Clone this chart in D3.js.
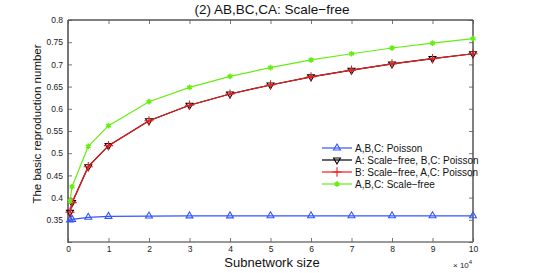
<!DOCTYPE html>
<html><head><meta charset="utf-8">
<script src="https://cdn.jsdelivr.net/npm/d3@7"></script>
<style>body{margin:0;background:#fff}svg{display:block;font-family:"Liberation Sans",Arial,sans-serif}</style>
</head><body><svg id="c" width="545" height="273"></svg>
<script>
const sizes = [500, 1000, 5000, 10000, 20000, 30000, 40000, 50000, 60000, 70000, 80000, 90000, 100000];
const poisson = [0.3495, 0.351, 0.3556, 0.3578, 0.3585, 0.3588, 0.3589, 0.359, 0.359, 0.359, 0.359, 0.359, 0.359];
const aScaleFree = [0.367, 0.3886, 0.4696, 0.517, 0.573, 0.608, 0.6333, 0.6536, 0.672, 0.687, 0.701, 0.713, 0.724];
const bScaleFree = [0.367, 0.3886, 0.4696, 0.517, 0.573, 0.608, 0.6333, 0.6536, 0.672, 0.687, 0.701, 0.713, 0.724];
const allScaleFree = [0.392, 0.4245, 0.5155, 0.562, 0.616, 0.6484, 0.673, 0.6926, 0.710, 0.724, 0.737, 0.748, 0.758];
const xTicks = [0, 10000, 20000, 30000, 40000, 50000, 60000, 70000, 80000, 90000, 100000];
const yTicks = [0.3, 0.35, 0.4, 0.45, 0.5, 0.55, 0.6, 0.65, 0.7, 0.75, 0.8];
const seriesNames = ["A,B,C: Poisson", "A: Scale\u2212free, B,C: Poisson", "B: Scale\u2212free, A,C: Poisson", "A,B,C: Scale\u2212free"];

const svg = d3.select("#c");
const L = 68, R = 473, T = 20, B = 242;
const x = d3.scaleLinear().domain([0, 100000]).range([L, R]);
const y = d3.scaleLinear().domain([0.3, 0.8]).range([B, T]);

const g = svg.append("g");
g.append("line").attr("x1", L).attr("x2", R).attr("y1", T).attr("y2", T).attr("stroke", "#000").attr("stroke-width", 1);
g.append("line").attr("x1", R).attr("x2", R).attr("y1", T).attr("y2", B).attr("stroke", "#000").attr("stroke-width", 1);

const xAxis = d3.axisBottom(x).tickValues(xTicks).tickSize(-4).tickPadding(4).tickFormat(d => d / 10000);
const xa = svg.append("g").attr("transform", `translate(0,${B})`).call(xAxis);
const xTop = svg.append("g").attr("transform", `translate(0,${T})`).call(d3.axisTop(x).tickValues(xTicks).tickSize(-4).tickFormat(""));
const yAxis = d3.axisLeft(y).tickValues(yTicks).tickSize(-4).tickPadding(5).tickFormat(d => d === 0.3 ? "" : String(+d.toFixed(2)));
const ya = svg.append("g").attr("transform", `translate(${L},0)`).call(yAxis);
const yRight = svg.append("g").attr("transform", `translate(${R},0)`).call(d3.axisRight(y).tickValues(yTicks).tickSize(-4).tickFormat(""));
[xa, xTop, ya, yRight].forEach(a => {
  a.select(".domain").remove();
  a.selectAll(".tick line").attr("stroke", "#555").attr("stroke-width", 0.8);
  a.selectAll("text").attr("font-size", 8.5).attr("fill", "#222").attr("font-family", "Liberation Sans, Arial, sans-serif");
});
g.append("line").attr("x1", L).attr("x2", L).attr("y1", T).attr("y2", B + 0.5).attr("stroke", "#777").attr("stroke-width", 2);
g.append("line").attr("x1", L - 1).attr("x2", R).attr("y1", B).attr("y2", B).attr("stroke", "#777").attr("stroke-width", 1.5);

svg.append("text").attr("x", 272).attr("y", 14).attr("text-anchor", "middle").attr("font-size", 13.5).attr("fill", "#111").text("(2) AB,BC,CA: Scale\u2212free");
svg.append("text").attr("x", 272).attr("y", 267).attr("text-anchor", "middle").attr("font-size", 13).attr("fill", "#111").text("Subnetwork size");
svg.append("text").attr("transform", "translate(41,124) rotate(-90)").attr("text-anchor", "middle").attr("font-size", 11.5).attr("fill", "#111").text("The basic reproduction number");
const ex = svg.append("text").attr("x", 453).attr("y", 268).attr("font-size", 8).attr("fill", "#222");
ex.append("tspan").text("\u00d7 10");
ex.append("tspan").attr("dy", -4).attr("font-size", 6).text("4");

const line = d3.line().x((d, i) => x(sizes[i])).y(d => y(d));
const specs = [
  {vals: poisson, color: "#3355ff", sym: "triUp"},
  {vals: aScaleFree, color: "#000", sym: "triDown"},
  {vals: bScaleFree, color: "#ee1c1c", sym: "plus"},
  {vals: allScaleFree, color: "#66ee11", sym: "star"}
];
function drawMarker(sel, sym, color) {
  if (sym === "triUp" || sym === "triDown") {
    sel.append("path").attr("d", d3.symbol(d3.symbolTriangle2, 34)())
      .attr("transform", sym === "triDown" ? "rotate(180)" : null)
      .attr("fill", "none").attr("stroke", color).attr("stroke-width", 1.1);
  } else if (sym === "plus") {
    sel.append("path").attr("d", d3.symbol(d3.symbolPlus, 30)()).attr("fill", "none").attr("stroke", color).attr("stroke-width", 1.1);
  } else {
    sel.append("path").attr("d", d3.symbol(d3.symbolAsterisk, 22)()).attr("fill", "none").attr("stroke", color).attr("stroke-width", 1.6);
    sel.append("circle").attr("r", 1.6).attr("fill", color);
  }
}
const plot = svg.append("g");
specs.forEach(s => {
  plot.append("path").datum(s.vals).attr("d", line).attr("fill", "none").attr("stroke", s.color).attr("stroke-width", 1.2);
  s.vals.forEach((v, i) => {
    const m = plot.append("g").attr("transform", `translate(${x(sizes[i])},${y(v)})`);
    drawMarker(m, s.sym, s.color);
  });
});

const leg = svg.append("g");
specs.forEach((s, i) => {
  const yy = 148 + i * 12;
  leg.append("line").attr("x1", 322).attr("x2", 352).attr("y1", yy).attr("y2", yy).attr("stroke", s.color).attr("stroke-width", 1.2);
  const m = leg.append("g").attr("transform", `translate(337,${yy})`);
  drawMarker(m, s.sym, s.color);
  leg.append("text").attr("x", 355).attr("y", yy + 3.5).attr("font-size", 10).attr("fill", "#111").text(seriesNames[i]);
});
</script></body></html>
